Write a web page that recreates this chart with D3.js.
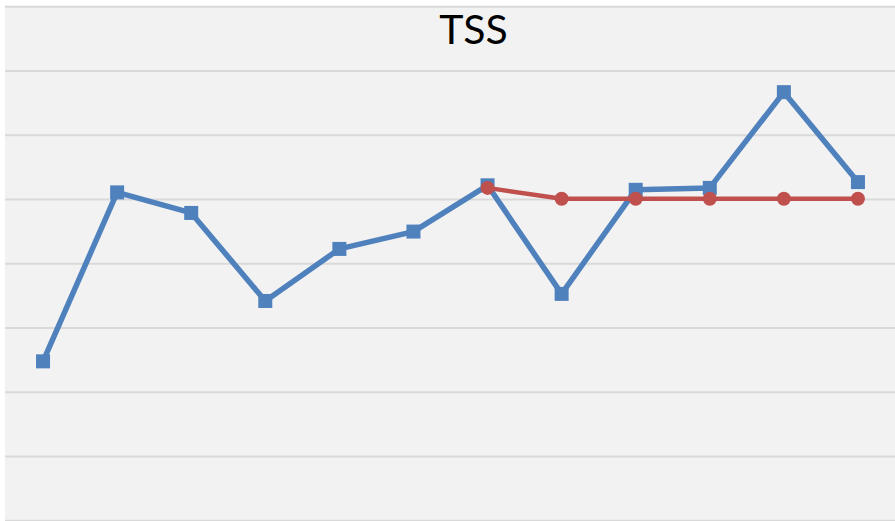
<!DOCTYPE html>
<html><head><meta charset="utf-8">
<script src="https://cdn.jsdelivr.net/npm/d3@7"></script>
<style>html,body{margin:0;padding:0;background:#fff;}svg{display:block;}</style>
</head><body>
<svg id="c" width="895" height="521"></svg>
<script>
const categories = ["1","2","3","4","5","6","7","8","9","10","11","12"];
const blueValues = [2.48, 5.11, 4.79, 3.42, 4.23, 4.50, 5.22, 3.53, 5.15, 5.18, 6.67, 5.27];
const redValues  = [null, null, null, null, null, null, 5.18, 5.01, 5.01, 5.01, 5.01, 5.01];
const yTicks = [0,1,2,3,4,5,6,7,8];
const title = "TSS";

(function(){
const svg = d3.select("#c");
const W = 895, H = 521;
const pLeft = 6, pRight = 895, pTop = 6.7, pBottom = 520.7;

svg.append("rect").attr("x", pLeft - 1).attr("y", pTop - 1).attr("width", pRight - pLeft + 1).attr("height", H - pTop + 1).attr("fill", "#f2f2f2");

const x = d3.scalePoint().domain(categories).range([pLeft, pRight]).padding(0.5);
const y = d3.scaleLinear().domain([0, 8]).range([pBottom, pTop]);

svg.append("g").selectAll("line").data(yTicks).join("line")
  .attr("x1", pLeft - 1).attr("x2", pRight)
  .attr("y1", d => y(d)).attr("y2", d => y(d))
  .attr("stroke", "#d9d9d9").attr("stroke-width", 2);

svg.append("text").attr("x", 473.5).attr("y", 43.5).attr("text-anchor", "middle")
  .attr("font-family", "Lato, 'Open Sans', sans-serif").attr("font-size", 41)
  .attr("fill", "#000").text(title);

const blue = "#4f81bd", red = "#c0504d";
const line = d3.line().defined(d => d.v != null).x(d => x(d.c)).y(d => y(d.v));
const bData = categories.map((c, i) => ({c, v: blueValues[i]}));
const rData = categories.map((c, i) => ({c, v: redValues[i]}));

svg.append("path").datum(bData).attr("d", line).attr("fill", "none")
  .attr("stroke", blue).attr("stroke-width", 5.5).attr("stroke-linejoin", "round");
svg.append("g").selectAll("rect").data(bData).join("rect")
  .attr("x", d => x(d.c) - 7).attr("y", d => y(d.v) - 7)
  .attr("width", 14).attr("height", 14).attr("fill", blue);

svg.append("path").datum(rData).attr("d", line).attr("fill", "none")
  .attr("stroke", red).attr("stroke-width", 4.5).attr("stroke-linejoin", "round");
svg.append("g").selectAll("circle").data(rData.filter(d => d.v != null)).join("circle")
  .attr("cx", d => x(d.c)).attr("cy", d => y(d.v)).attr("r", 7).attr("fill", red);
})();
</script>
</body></html>
